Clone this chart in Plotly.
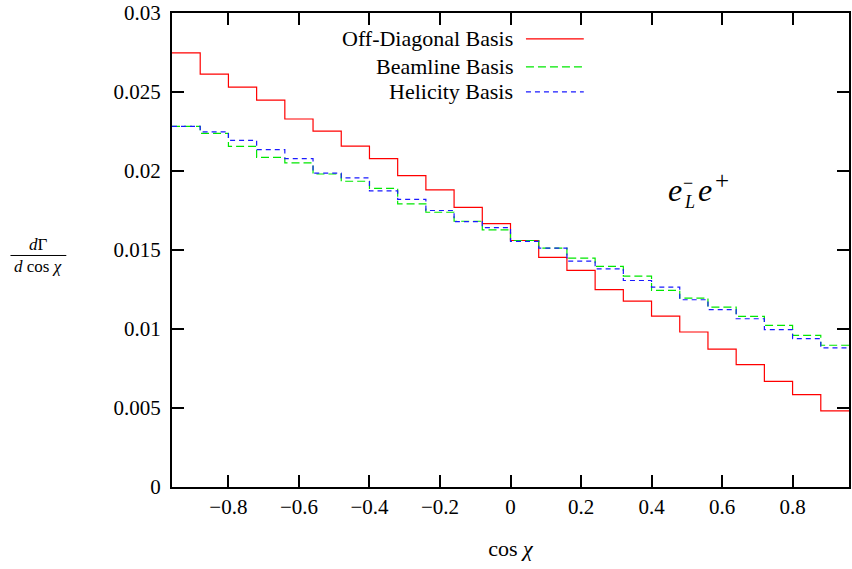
import numpy as np
import plotly.graph_objects as go

# ---- data ----
bin_edges = np.round(np.linspace(-0.96, 0.96, 25), 2).tolist()
off_diagonal = [0.02747, 0.02613, 0.02531, 0.02449, 0.02329, 0.02253, 0.02158, 0.02078,
                0.01971, 0.01880, 0.01770, 0.01667, 0.01560, 0.01453, 0.01371, 0.01249,
                0.01177, 0.01082, 0.00981, 0.00872, 0.00775, 0.00669, 0.00585, 0.00482]
beamline = [0.02282, 0.02238, 0.02156, 0.02086, 0.02051, 0.01981, 0.01935, 0.01890,
            0.01792, 0.01739, 0.01682, 0.01627, 0.01560, 0.01512, 0.01448, 0.01396,
            0.01335, 0.01244, 0.01196, 0.01139, 0.01080, 0.01023, 0.00960, 0.00897]
helicity = [0.02282, 0.02248, 0.02194, 0.02135, 0.02078, 0.01986, 0.01956, 0.01874,
            0.01821, 0.01750, 0.01680, 0.01642, 0.01554, 0.01512, 0.01429, 0.01381,
            0.01307, 0.01265, 0.01185, 0.01122, 0.01065, 0.00996, 0.00939, 0.00880]
x_ticks = [-0.8, -0.6, -0.4, -0.2, 0, 0.2, 0.4, 0.6, 0.8]
y_ticks = [0, 0.005, 0.01, 0.015, 0.02, 0.025, 0.03]

series = [
    ("Off-Diagonal Basis", off_diagonal, "#ff0000", "solid"),
    ("Beamline Basis", beamline, "#00e800", "8px,4px"),
    ("Helicity Basis", helicity, "#1a1aff", "5px,4px"),
]

FONT = "Liberation Serif, Times New Roman, serif"
fig = go.Figure()
for name, vals, color, dash in series:
    fig.add_trace(go.Scatter(
        x=bin_edges, y=list(vals) + [vals[-1]], mode="lines",
        line=dict(shape="hv", color=color, width=1.2, dash=dash),
        name=name, showlegend=False, hoverinfo="skip"))

W, H = 852, 569
L, R, T, B = 172, 1, 12, 82
pw, ph = W - L - R, H - T - B

def px(xp):  # pixel x -> paper
    return (xp - L) / pw

def py(yp):  # pixel y -> paper
    return (H - B - yp) / ph

def text(xp, yp, s, size, xanchor="center"):
    fig.add_annotation(x=px(xp), y=py(yp), xref="paper", yref="paper", text=s,
                       showarrow=False, xanchor=xanchor, yanchor="middle",
                       font=dict(family=FONT, size=size, color="black"))

# manual legend (text right, sample line on right)
legend_rows = [38, 66, 91]
for (name, vals, color, dash), yy in zip(series, legend_rows):
    text(516, yy, name, 22, xanchor="right")
    fig.add_shape(type="line", xref="paper", yref="paper",
                  x0=px(527), x1=px(585), y0=py(yy), y1=py(yy),
                  line=dict(color=color, width=1.2, dash=dash))

# e_L^- e^+ label (built from pieces)
text(676, 189, "<i>e</i>", 32)
text(691, 201, "<i>L</i>", 18)
text(690, 182, "\u2212", 18)
text(707, 189, "<i>e</i>", 32)
text(724, 180, "+", 25)

# y-axis label as fraction
text(38, 244, "<i>d</i>\u0393", 17)
text(38, 266, "<i>d</i> cos <i>\u03c7</i>", 17)
fig.add_shape(type="line", xref="paper", yref="paper",
              x0=px(10), x1=px(66), y0=py(255), y1=py(255),
              line=dict(color="black", width=1))

axis_common = dict(showline=True, linecolor="black", linewidth=2, mirror="ticks",
                   ticks="inside", ticklen=12, tickwidth=1.5, tickcolor="black",
                   showgrid=False, zeroline=False,
                   tickfont=dict(family=FONT, size=21, color="black"))

fig.update_layout(
    width=W, height=H, margin=dict(l=L, r=R, t=T, b=B),
    font=dict(family=FONT, color="black"),
    paper_bgcolor="white", plot_bgcolor="white", showlegend=False,
    xaxis=dict(range=[-0.96, 0.96], tickvals=x_ticks,
               ticktext=[("\u2212" if v < 0 else "") + (f"{abs(v):g}") for v in x_ticks],
               ticklabelstandoff=0,
               title=dict(text="cos <i>\u03c7</i>", font=dict(family=FONT, size=22, color="black"),
                          standoff=22),
               **axis_common),
    yaxis=dict(range=[0, 0.03], tickvals=y_ticks,
               ticktext=[f"{v:g}" for v in y_ticks], ticklabelstandoff=5,
               **axis_common),
)

fig.write_html("out.html", config={"displayModeBar": False},
               post_script="document.body.style.margin='0';")
